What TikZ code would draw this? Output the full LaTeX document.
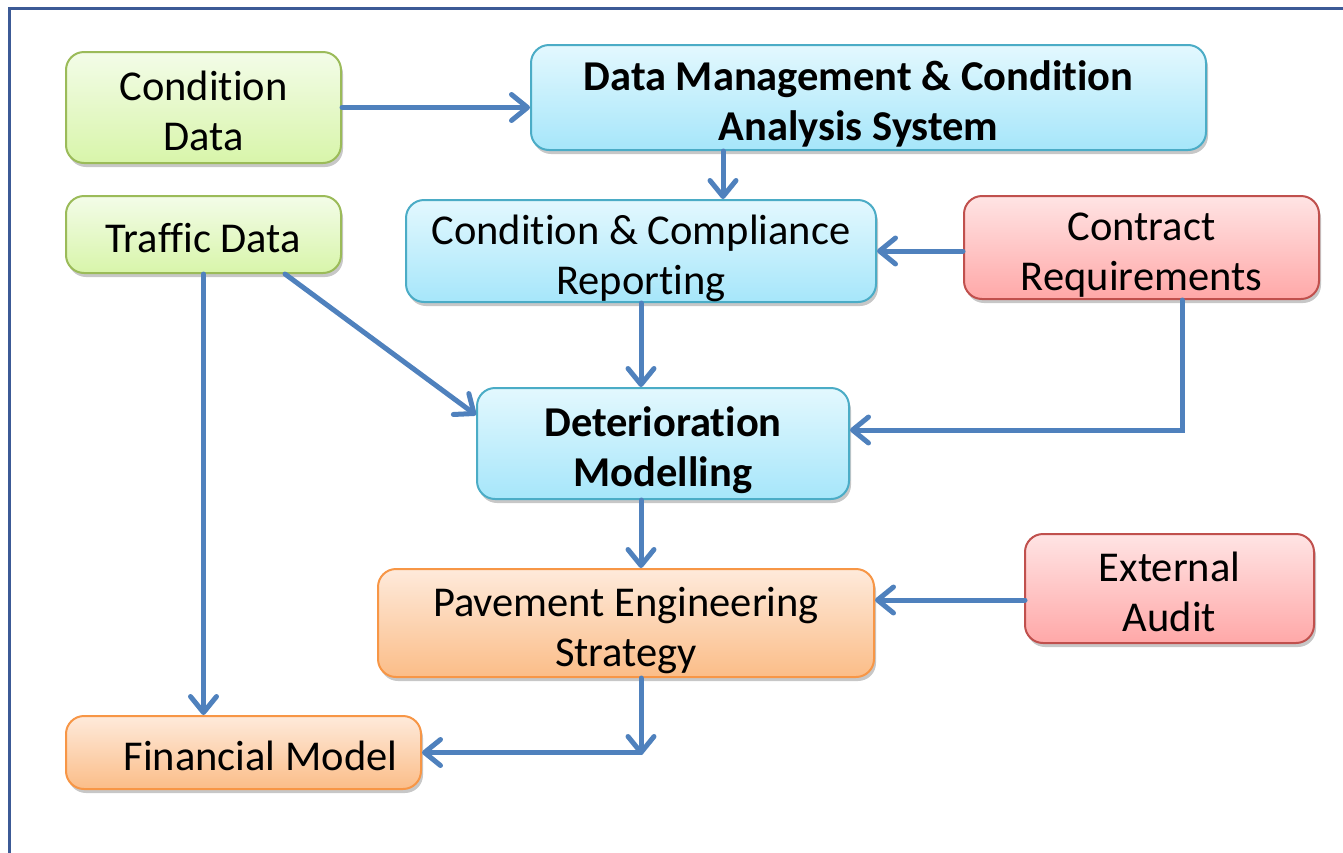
\documentclass[tikz,border=0pt]{standalone}
\usepackage{fontspec}
\setmainfont{Carlito}[Ligatures=NoCommon]
\usetikzlibrary{arrows.meta,shadows,calc}
\definecolor{flow}{HTML}{4F81BD}
\definecolor{frame}{HTML}{3C5A96}
\definecolor{gTop}{HTML}{F3FCE8}\definecolor{gBot}{HTML}{D8F5AA}\definecolor{gLine}{HTML}{9BBB59}
\definecolor{bTop}{HTML}{E3F8FE}\definecolor{bBot}{HTML}{A6E6FA}\definecolor{bLine}{HTML}{4BACC6}
\definecolor{rTop}{HTML}{FFE4E4}\definecolor{rBot}{HTML}{FFA8A8}\definecolor{rLine}{HTML}{C0504D}
\definecolor{oTop}{HTML}{FEEADB}\definecolor{oBot}{HTML}{FBBD88}\definecolor{oLine}{HTML}{F79646}
% text block lowered a little inside its box, extents unchanged
\newcommand\boxtext[1]{\raisebox{-8pt}[\height][\depth]{\begin{tabular}{@{}c@{}}#1\end{tabular}}}
\begin{document}
\begin{tikzpicture}[x=1pt,y=-1pt,
  box/.style={rectangle, rounded corners=18pt, line width=2pt, inner sep=0pt,
    font=\fontsize{42.5}{50}\selectfont,
    drop shadow={shadow xshift=2pt, shadow yshift=-4pt, opacity=0.22, fill=black}},
  green/.style={box, draw=gLine, top color=gTop, bottom color=gBot},
  blue/.style={box, draw=bLine, top color=bTop, bottom color=bBot},
  red/.style={box, draw=rLine, top color=rTop, bottom color=rBot},
  orange/.style={box, draw=oLine, top color=oTop, bottom color=oBot},
  link/.style={draw=flow, line width=5pt, line cap=round,
    -{Straight Barb[length=16pt,width=26pt,round]}}]
\useasboundingbox (0,0) rectangle (1343,852);
% outer frame, running past the right and bottom edges
\draw[frame, line width=3pt] (9,8) rectangle (1400,900);

\node[green, minimum width=275pt, minimum height=111pt] (cd) at (203.5,107.5) {\boxtext{Condition\\Data}};
\node[green, minimum width=275pt, minimum height=77pt] (td) at (203.5,234.5) {\boxtext{Traffic Data}};
\node[blue, minimum width=675pt, minimum height=105pt, font=\fontsize{42.5}{50}\selectfont\bfseries] (dm) at (868.5,97.5) {\boxtext{\hspace*{-20pt}Data Management \& Condition\\\hspace*{-20pt}Analysis System}};
\node[blue, minimum width=470pt, minimum height=102pt] (ccr) at (641,251) {\boxtext{Condition \& Compliance\\Reporting}};
\node[red, minimum width=355pt, minimum height=103pt] (cr) at (1141.5,247.5) {\boxtext{Contract\\Requirements}};
\node[blue, minimum width=372pt, minimum height=111pt, font=\fontsize{42.5}{50}\selectfont\bfseries] (det) at (663,443.5) {\boxtext{Deterioration\\Modelling}};
\node[orange, minimum width=496pt, minimum height=108pt] (pes) at (626,623) {\boxtext{Pavement Engineering\\Strategy}};
\node[red, minimum width=289pt, minimum height=109pt] (ea) at (1169.5,588.5) {\boxtext{External\\Audit}};
\node[orange, minimum width=355pt, minimum height=73pt] (fm) at (243.5,752.5) {\boxtext{\hspace*{34pt}Financial Model}};

\coordinate (crturn) at (1182,430);
\coordinate (eaout) at (1025,600);
\coordinate (fmturn) at (641,755);

\path[link] (cd.east) -- (cd.east -| dm.west);
\path[link] (dm.south -| 723,0) -- (ccr.north -| 723,0);
\path[link] (ccr.south) -- (ccr.south |- det.north);
\path[link] (cr.west |- ccr.east) -- (ccr.east);
\path[link] (cr.south -| crturn) -- (crturn) -- (det.east |- crturn);
\path[link] (td.south -| 285,0) -- (det.west |- 0,415);
\path[link] (td.south) -- (td.south |- fm.north);
\path[link] (det.south -| ccr.south) -- (pes.north -| ccr.south);
\path[link] (eaout) -- (pes.east |- eaout);
\path[link] (pes.south -| fmturn) -- (fmturn);
\path[link] (fmturn |- fm.east) -- (fm.east);
\end{tikzpicture}
\end{document}
